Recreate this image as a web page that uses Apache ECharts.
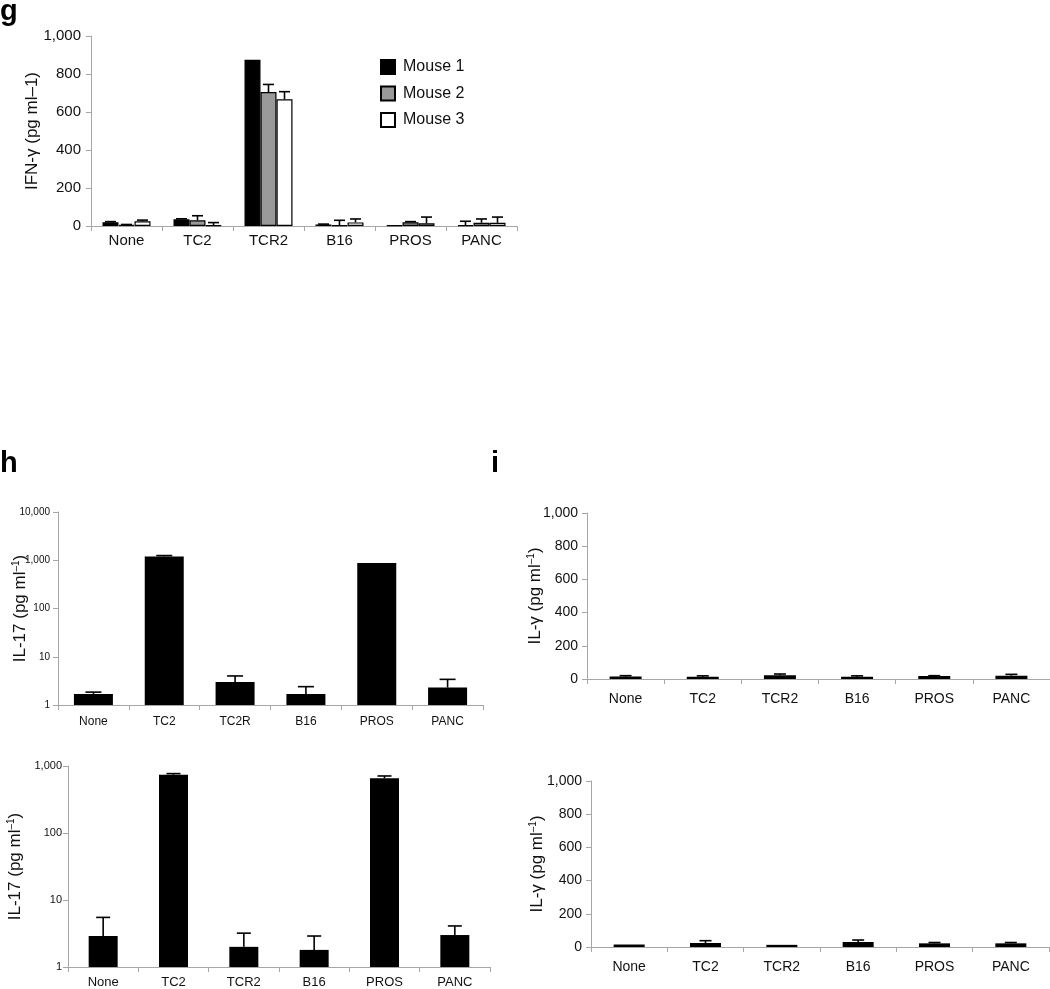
<!DOCTYPE html>
<html><head><meta charset="utf-8">
<script src="https://cdn.jsdelivr.net/npm/echarts@6/dist/echarts.min.js"></script>
<style>html,body{margin:0;padding:0;background:#fff}#c{width:1050px;height:989px}</style>
</head><body><div id="c"></div>
<script>
// ---- data ----
const gCats = ['None', 'TC2', 'TCR2', 'B16', 'PROS', 'PANC'];
const gSeriesNames = ['Mouse 1', 'Mouse 2', 'Mouse 3'];
const gMouse1 = [20, 35, 875, 8, 3, 5];
const gMouse1Err = [3, 3, 0, 2, 0, 20];
const gMouse2 = [6, 30, 705, 5, 20, 17];
const gMouse2Err = [2, 24, 40, 25, 3, 20];
const gMouse3 = [25, 3, 667, 19, 14, 17];
const gMouse3Err = [6, 15, 40, 18, 33, 30];

const hTopCats = ['None', 'TC2', 'TC2R', 'B16', 'PROS', 'PANC'];
const hTopVals = [1.7, 1200, 3.0, 1.7, 880, 2.3];
const hTopErr = [0.15, 50, 1.0, 0.7, 0, 1.1];

const hBotCats = ['None', 'TC2', 'TCR2', 'B16', 'PROS', 'PANC'];
const hBotVals = [2.9, 740, 2.0, 1.8, 655, 3.0];
const hBotErr = [2.6, 30, 1.2, 1.1, 55, 1.1];

const iCats = ['None', 'TC2', 'TCR2', 'B16', 'PROS', 'PANC'];
const iTopVals = [15, 14, 22, 14, 18, 20];
const iTopErr = [5, 5, 8, 5, 2, 8];
const iBotVals = [15, 24, 13, 30, 22, 22];
const iBotErr = [0, 14, 0, 12, 5, 5];

// ---- styling helpers ----
const AX = '#a6a6a6';
const SANS = "'Liberation Sans', Arial, sans-serif";
const NARROW = "'Liberation Sans Narrow', 'Arial Narrow', 'Liberation Sans', sans-serif";
const fmt = v => Math.round(v).toLocaleString('en-US');

function errSeries(xi, yi, vals, errs, offsetPx, capW) {
  return {
    type: 'custom', xAxisIndex: xi, yAxisIndex: yi, z: 5, silent: true,
    data: vals.map((v, i) => [i, v, v + errs[i]]),
    encode: { x: 0, y: [1, 2] },
    renderItem(params, api) {
      const i = api.value(0), v = api.value(1), t = api.value(2);
      if (!(t > v)) return { type: 'group', children: [] };
      const a = api.coord([i, v]), b = api.coord([i, t]);
      const x = a[0] + offsetPx;
      const st = { stroke: '#000', lineWidth: 1.6 };
      return { type: 'group', children: [
        { type: 'line', shape: { x1: x, y1: a[1], x2: x, y2: b[1] }, style: st },
        { type: 'line', shape: { x1: x - capW / 2, y1: b[1], x2: x + capW / 2, y2: b[1] }, style: st }
      ]};
    }
  };
}

function catAxis(gi, cats, font, size, margin) {
  return {
    type: 'category', gridIndex: gi, data: cats,
    axisLine: { lineStyle: { color: AX, width: 1 } },
    axisTick: { show: true, length: 5, lineStyle: { color: AX } },
    axisLabel: { color: '#111', fontFamily: font, fontSize: size, margin: margin, interval: 0 }
  };
}

function valAxis(gi, opt) {
  return Object.assign({
    gridIndex: gi, nameLocation: 'middle', nameRotate: 90, nameMoveOverlap: false,
    axisLine: { show: true, lineStyle: { color: AX, width: 1 } },
    axisTick: { show: true, length: 5, lineStyle: { color: AX } },
    splitLine: { show: false }
  }, opt);
}

const supRich = (size, font) => ({
  n: { fontSize: size, fontFamily: font, color: '#111' },
  s: { fontSize: Math.round(size * 0.6), fontFamily: font, color: '#111', verticalAlign: 'top', padding: [0, 0, 8, 0] }
});

const gBarW = 16;
const gColors = ['#000000', '#999999', '#ffffff'];
const gVals = [gMouse1, gMouse2, gMouse3];
const gErrs = [gMouse1Err, gMouse2Err, gMouse3Err];

const series = [];
gVals.forEach((vals, k) => {
  series.push({
    type: 'bar', name: gSeriesNames[k], xAxisIndex: 0, yAxisIndex: 0,
    data: vals, barWidth: gBarW, barGap: '0%',
    itemStyle: { color: gColors[k], borderColor: '#000', borderWidth: 1.2 }
  });
});
gVals.forEach((vals, k) => {
  series.push(errSeries(0, 0, vals, gErrs[k], (k - 1) * gBarW, 11));
});

series.push({ type: 'bar', xAxisIndex: 1, yAxisIndex: 1, data: hTopVals, barWidth: 39, itemStyle: { color: '#000' } });
series.push(errSeries(1, 1, hTopVals, hTopErr, 0, 16));
series.push({ type: 'bar', xAxisIndex: 2, yAxisIndex: 2, data: hBotVals, barWidth: 29, itemStyle: { color: '#000' } });
series.push(errSeries(2, 2, hBotVals, hBotErr, 0, 14));
series.push({ type: 'bar', xAxisIndex: 3, yAxisIndex: 3, data: iTopVals, barWidth: 32, itemStyle: { color: '#000' } });
series.push(errSeries(3, 3, iTopVals, iTopErr, 0, 12));
series.push({ type: 'bar', xAxisIndex: 4, yAxisIndex: 4, data: iBotVals, barWidth: 31, itemStyle: { color: '#000' } });
series.push(errSeries(4, 4, iBotVals, iBotErr, 0, 12));

const panelTitle = (t, l, tp) => ({ text: t, left: l, top: tp, padding: 0,
  textStyle: { fontSize: 29, fontWeight: 'bold', fontFamily: SANS, color: '#000' } });

const option = {
  backgroundColor: '#fff',
  animation: false,
  title: [panelTitle('g', 0, -3), panelTitle('h', 0, 449), panelTitle('i', 491, 449)],
  legend: {
    data: gSeriesNames, orient: 'vertical', left: 375, top: 54,
    itemWidth: 14, itemHeight: 14, itemGap: 10.5, icon: 'rect',
    textStyle: { fontSize: 16, fontFamily: SANS, color: '#111', padding: [0, 0, 0, 3] },
    selectedMode: false
  },
  grid: [
    { left: 91, top: 36, width: 426, height: 190 },
    { left: 58, top: 512, width: 425, height: 193 },
    { left: 68, top: 766, width: 422, height: 203 },
    { left: 587, top: 513, width: 464, height: 166 },
    { left: 591, top: 781, width: 458, height: 166 }
  ],
  xAxis: [
    catAxis(0, gCats, SANS, 15, 7),
    catAxis(1, hTopCats, NARROW, 12, 11),
    catAxis(2, hBotCats, NARROW, 13, 9),
    catAxis(3, iCats, NARROW, 14, 13),
    catAxis(4, iCats, NARROW, 14, 13)
  ],
  yAxis: [
    valAxis(0, { type: 'value', min: 0, max: 1000, interval: 200,
      name: 'IFN-γ (pg ml–1)', nameGap: 50,
      nameTextStyle: { fontSize: 17, fontFamily: SANS, color: '#111' },
      axisLabel: { fontSize: 15, fontFamily: SANS, color: '#111', margin: 10, formatter: fmt } }),
    valAxis(1, { type: 'log', logBase: 10, min: 1, max: 10000, splitNumber: 4,
      name: '{n|IL-17 (pg ml}{s|–1}{n|)}', nameGap: 29,
      nameTextStyle: { rich: supRich(17, SANS) },
      axisLabel: { fontSize: 10, fontFamily: NARROW, color: '#111', margin: 8, formatter: fmt } }),
    valAxis(2, { type: 'log', logBase: 10, min: 1, max: 1000, splitNumber: 3,
      name: '{n|IL-17 (pg ml}{s|–1}{n|)}', nameGap: 44,
      nameTextStyle: { rich: supRich(17, SANS) },
      axisLabel: { fontSize: 11, fontFamily: NARROW, color: '#111', margin: 6, formatter: fmt } }),
    valAxis(3, { type: 'value', min: 0, max: 1000, interval: 200,
      name: '{n|IL-γ (pg ml}{s|–1}{n|)}', nameGap: 43,
      nameTextStyle: { rich: supRich(17, SANS) },
      axisLabel: { fontSize: 14, fontFamily: NARROW, color: '#111', margin: 9, formatter: fmt } }),
    valAxis(4, { type: 'value', min: 0, max: 1000, interval: 200,
      name: '{n|IL-γ (pg ml}{s|–1}{n|)}', nameGap: 45,
      nameTextStyle: { rich: supRich(17, SANS) },
      axisLabel: { fontSize: 14, fontFamily: NARROW, color: '#111', margin: 9, formatter: fmt } })
  ],
  series: series
};

const chart = echarts.init(document.getElementById('c'), null, { renderer: 'canvas' });
chart.setOption(option);
</script>
</body></html>
